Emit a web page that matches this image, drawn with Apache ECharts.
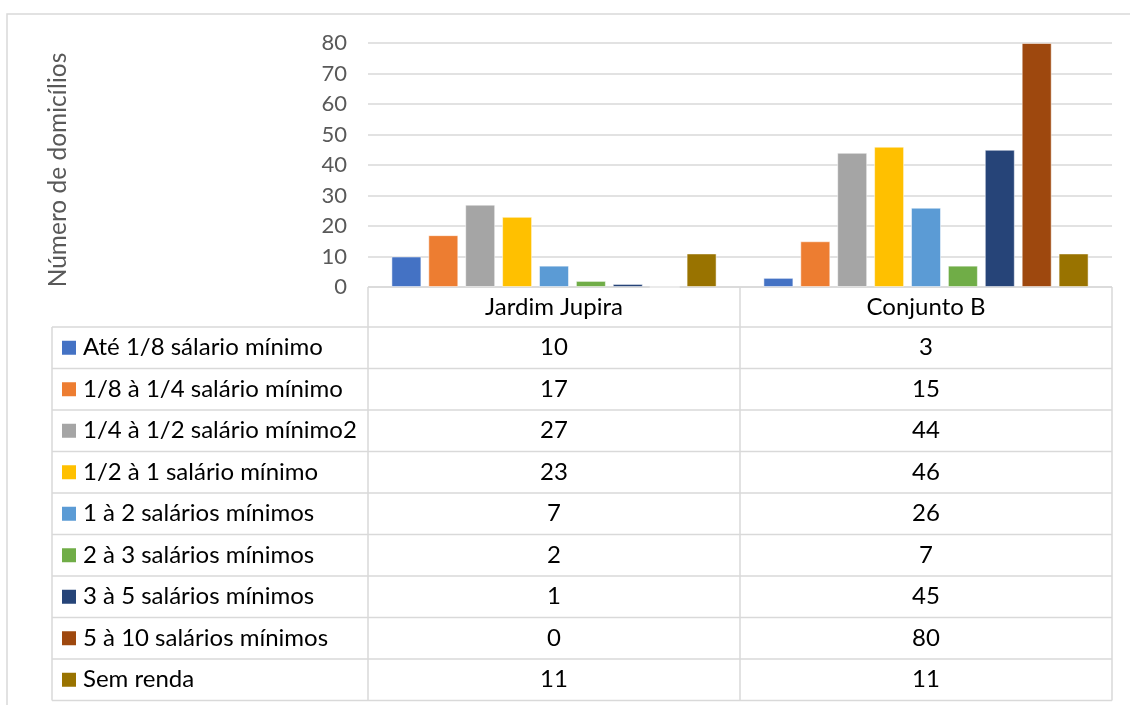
<!DOCTYPE html>
<html>
<head>
<meta charset="utf-8">
<title>Número de domicílios por faixa de renda</title>
<script src="https://cdn.jsdelivr.net/npm/echarts@6/dist/echarts.min.js"></script>
<style>
  html, body { margin: 0; padding: 0; background: #fff; }
  #chart { width: 1130px; height: 705px; }
</style>
</head>
<body>
<div id="chart"></div>
<script>
// Localities (table columns / bar groups)
const categories = ['Jardim Jupira', 'Conjunto B'];

// Income brackets (series / table rows)
const seriesNames = [
  'Até 1/8 sálario mínimo',
  '1/8 à 1/4 salário mínimo',
  '1/4 à 1/2 salário mínimo2',
  '1/2 à 1 salário mínimo',
  '1 à 2 salários mínimos',
  '2 à 3 salários mínimos',
  '3 à 5 salários mínimos',
  '5 à 10 salários mínimos',
  'Sem renda'
];

// Households per bracket, one array per locality
const jardimJupira = [10, 17, 27, 23, 7, 2, 1, 0, 11];
const conjuntoB   = [3, 15, 44, 46, 26, 7, 45, 80, 11];

// Value axis ticks
const yTicks = [0, 10, 20, 30, 40, 50, 60, 70, 80];

const colors = ['#4472C4', '#ED7D31', '#A5A5A5', '#FFC000', '#5B9BD5',
                '#70AD47', '#264478', '#9E480E', '#997300'];

const FONT = 'Lato, "Open Sans", sans-serif';
const FS = 24;        // table text
const FS_AXIS = 22;   // tick labels
const FS_TITLE = 24.5;
const LINE = '#d9d9d9';

// Plot / table layout
const W = 1130, H = 705;
const plotLeft = 368, plotRight = 1112, plotTop = 43, plotBottom = 287;
const tableLeft = 52;
const headerBottom = 327;
const rowH = 41.5;

const chart = echarts.init(document.getElementById('chart'), null, { renderer: 'canvas' });

const series = seriesNames.map((name, i) => ({
  name: name,
  type: 'bar',
  barWidth: 30,
  barGap: '23%',
  itemStyle: { color: colors[i], borderColor: 'rgba(255,255,255,0.5)', borderWidth: 1 },
  data: [jardimJupira[i], conjuntoB[i]]
}));

// Data table under the plot, built from the same arrays
function tableGraphics() {
  const g = [];
  const colW = (plotRight - plotLeft) / categories.length;
  const tableBottom = headerBottom + rowH * seriesNames.length;
  const lineStyle = { stroke: LINE, lineWidth: 1.5 };

  // horizontal rules
  g.push({ type: 'line', shape: { x1: plotLeft, y1: plotBottom, x2: plotRight, y2: plotBottom }, style: lineStyle, silent: true });
  for (let r = 0; r <= seriesNames.length; r++) {
    const y = headerBottom + r * rowH;
    g.push({ type: 'line', shape: { x1: tableLeft, y1: y, x2: plotRight, y2: y }, style: lineStyle, silent: true });
  }
  // vertical rules
  g.push({ type: 'line', shape: { x1: tableLeft, y1: headerBottom, x2: tableLeft, y2: tableBottom }, style: lineStyle, silent: true });
  for (let c = 0; c <= categories.length; c++) {
    const x = plotLeft + c * colW;
    g.push({ type: 'line', shape: { x1: x, y1: plotBottom, x2: x, y2: tableBottom }, style: lineStyle, silent: true });
  }
  // column headers
  categories.forEach((cat, c) => {
    g.push({
      type: 'text', silent: true,
      style: {
        x: plotLeft + (c + 0.5) * colW, y: (plotBottom + headerBottom) / 2,
        text: cat, fill: '#000', font: FS + 'px ' + FONT,
        textAlign: 'center', textVerticalAlign: 'middle'
      }
    });
  });
  // rows: legend key, label, values
  const cols = [jardimJupira, conjuntoB];
  seriesNames.forEach((name, r) => {
    const yc = headerBottom + (r + 0.5) * rowH;
    g.push({ type: 'rect', silent: true, shape: { x: 62, y: yc - 7, width: 14, height: 14 }, style: { fill: colors[r] } });
    g.push({
      type: 'text', silent: true,
      style: {
        x: 83, y: yc, text: name, fill: '#000', font: FS + 'px ' + FONT,
        textAlign: 'left', textVerticalAlign: 'middle'
      }
    });
    cols.forEach((arr, c) => {
      g.push({
        type: 'text', silent: true,
        style: {
          x: plotLeft + (c + 0.5) * colW, y: yc, text: String(arr[r]), fill: '#000',
          font: FS + 'px ' + FONT, textAlign: 'center', textVerticalAlign: 'middle'
        }
      });
    });
  });
  return g;
}

const option = {
  backgroundColor: '#fff',
  animation: false,
  color: colors,
  grid: {
    left: plotLeft, right: W - plotRight, top: plotTop, bottom: H - plotBottom,
    containLabel: false
  },
  xAxis: {
    type: 'category',
    data: categories,
    axisLine: { show: false },
    axisTick: { show: false },
    axisLabel: { show: false }
  },
  yAxis: {
    type: 'value',
    min: yTicks[0],
    max: yTicks[yTicks.length - 1],
    interval: yTicks[1] - yTicks[0],
    axisLine: { show: false },
    axisTick: { show: false },
    axisLabel: { color: '#595959', fontFamily: FONT, fontSize: FS_AXIS, margin: 21 },
    splitLine: { lineStyle: { color: LINE, width: 1.5 } }
  },
  series: series,
  graphic: [
    // outer chart frame
    { type: 'rect', silent: true, shape: { x: 7, y: 14, width: W, height: H }, style: { fill: 'none', stroke: LINE, lineWidth: 1.5 } },
    // value axis title
    {
      type: 'text', silent: true,
      x: 58, y: 170, rotation: Math.PI / 2,
      style: {
        text: 'Número de domicílios', fill: '#595959', font: FS_TITLE + 'px ' + FONT,
        textAlign: 'center', textVerticalAlign: 'middle'
      }
    }
  ].concat(tableGraphics())
};

chart.setOption(option);
</script>
</body>
</html>
